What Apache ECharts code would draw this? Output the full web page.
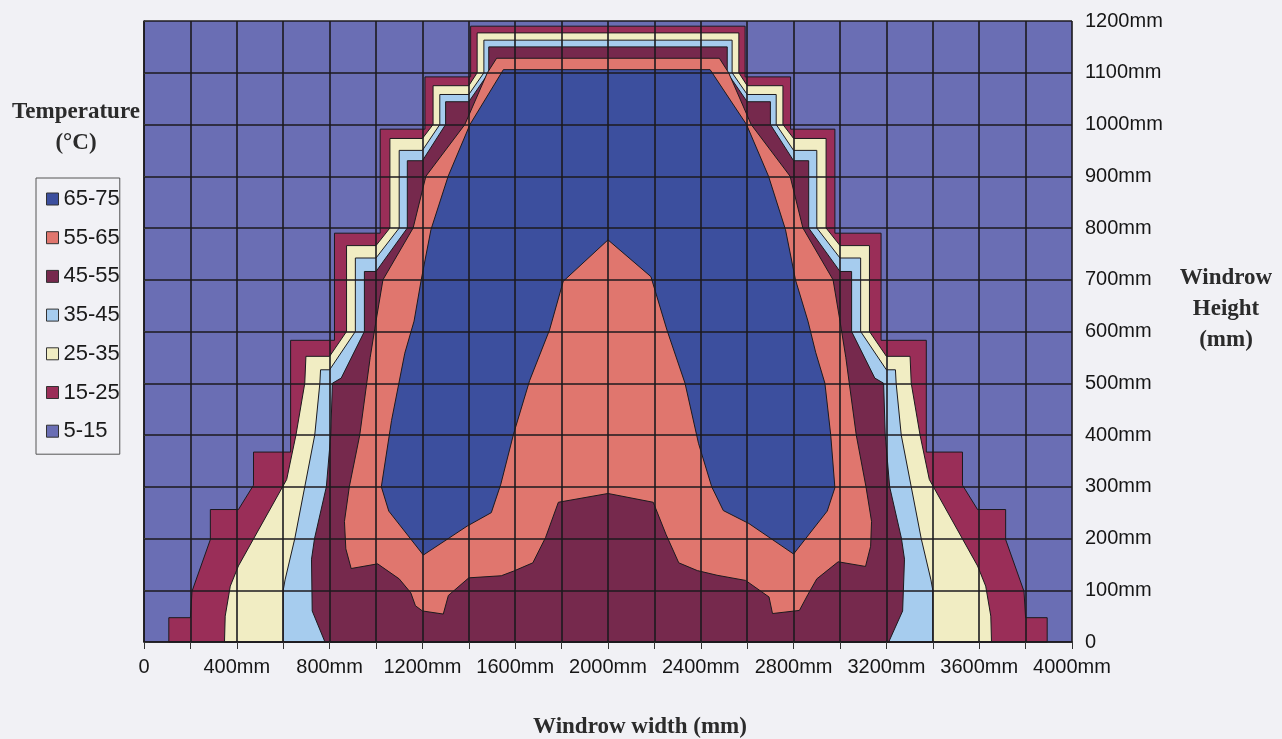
<!DOCTYPE html>
<html>
<head>
<meta charset="utf-8">
<script src="https://cdn.jsdelivr.net/npm/echarts@6/dist/echarts.min.js"></script>
<style>
  html, body { margin: 0; padding: 0; background: #f1f1f5; }
  #chart { width: 1282px; height: 739px; }
</style>
</head>
<body>
<div id="chart"></div>
<script>
// Temperature bands (°C), colours for each band
const bandNames  = ['5-15', '15-25', '25-35', '35-45', '45-55', '55-65', '65-75'];
const bandColors = ['#6a6eb4', '#9a2e58', '#f1edc3', '#a6ccee', '#76294d', '#e0766e', '#3c4f9e'];

// Axis tick labels
const widthLabels  = ['0', '400mm', '800mm', '1200mm', '1600mm', '2000mm', '2400mm', '2800mm', '3200mm', '3600mm', '4000mm'];
const heightLabels = ['0', '100mm', '200mm', '300mm', '400mm', '500mm', '600mm', '700mm', '800mm', '900mm', '1000mm', '1100mm', '1200mm'];

// Outline of each region at or above a band's lower limit: [width mm, height mm]
const edge5 = [[0, 0], [4000, 0], [4000, 1200], [0, 1200]];

const edge15 = [
  [1408, 1190], [1408, 1092], [1211, 1092], [1211, 991], [1018, 991], [1018, 790], [821, 790], [821, 583],
  [632, 583], [632, 367], [472, 367], [472, 303], [407, 256], [286, 256], [286, 198], [207, 98], [200, 47],
  [107, 47], [107, 0],
  [3893, 0], [3893, 47], [3800, 47], [3793, 98], [3714, 198], [3714, 256], [3593, 256], [3528, 303],
  [3528, 367], [3372, 367], [3372, 583], [3177, 583], [3177, 790], [2978, 790], [2978, 991], [2787, 991],
  [2787, 1092], [2591, 1092], [2591, 1190]
];

const edge25 = [
  [1436, 1177], [1436, 1100], [1400, 1075], [1246, 1075], [1246, 1000], [1200, 973], [1060, 973], [1060, 800],
  [1000, 766], [873, 766], [873, 600], [800, 552], [698, 552], [693, 500], [655, 400], [615, 314], [407, 147],
  [372, 108], [350, 50], [347, 0],
  [3653, 0], [3650, 50], [3628, 108], [3593, 147], [3385, 314], [3345, 400], [3307, 500], [3302, 552],
  [3200, 552], [3127, 600], [3127, 766], [3000, 766], [2940, 800], [2940, 973], [2800, 973], [2754, 1000],
  [2754, 1075], [2600, 1075], [2564, 1100], [2564, 1177]
];

const edge35 = [
  [1465, 1163], [1465, 1100], [1400, 1058], [1275, 1058], [1275, 1000], [1200, 950], [1100, 950], [1100, 800],
  [1000, 742], [911, 742], [911, 600], [800, 526], [761, 526], [758, 500], [736, 400], [693, 300], [650, 200],
  [608, 120], [600, 100], [600, 0],
  [3400, 0], [3400, 100], [3392, 120], [3350, 200], [3307, 300], [3264, 400], [3242, 500], [3239, 526],
  [3200, 526], [3089, 600], [3089, 742], [3000, 742], [2900, 800], [2900, 950], [2800, 950], [2725, 1000],
  [2725, 1058], [2600, 1058], [2535, 1100], [2535, 1163]
];

const edge45 = [
  [1486, 1150], [1486, 1100], [1400, 1044], [1300, 1044], [1300, 1000], [1200, 930], [1135, 930], [1135, 800],
  [1000, 716], [950, 716], [950, 600], [850, 510], [812, 500], [805, 400], [786, 300], [735, 200], [722, 160],
  [725, 60], [780, 0],
  [3210, 0], [3270, 60], [3278, 160], [3265, 200], [3214, 300], [3195, 400], [3188, 500], [3150, 510],
  [3050, 600], [3050, 716], [3000, 716], [2865, 800], [2865, 930], [2800, 930], [2700, 1000], [2700, 1044],
  [2600, 1044], [2514, 1100], [2514, 1150]
];

const edge55 = [
  [1520, 1128], [1480, 1100], [1383, 1000], [1215, 900], [1160, 800], [1030, 700], [1000, 620], [975, 550],
  [960, 500], [930, 400], [885, 300], [864, 233], [870, 180], [893, 142], [1007, 151], [1100, 122], [1150, 95],
  [1170, 70], [1200, 60], [1290, 54], [1312, 90], [1400, 124], [1540, 128], [1593, 137], [1676, 153],
  [1731, 202], [1786, 270], [2000, 287],
  [2195, 270], [2250, 208], [2305, 153], [2385, 138], [2470, 129], [2593, 119], [2694, 87], [2709, 55],
  [2825, 61], [2862, 92], [2900, 122], [2992, 155], [3110, 146], [3132, 185], [3136, 233], [3112, 300],
  [3070, 400], [3040, 500], [3025, 550], [3000, 620], [2970, 700], [2840, 800], [2785, 900], [2617, 1000],
  [2520, 1100], [2480, 1128]
];

const edge65 = [
  [1549, 1106], [1405, 1000], [1311, 900], [1237, 797], [1195, 700], [1164, 620], [1124, 558], [1067, 428],
  [1023, 300], [1055, 253], [1204, 168],
  [1393, 224], [1497, 250], [1538, 305], [1593, 402], [1662, 505], [1748, 603], [1807, 697], [2000, 777],
  [2185, 706], [2254, 603], [2332, 500], [2390, 384], [2447, 300], [2497, 254], [2607, 229], [2800, 170],
  [2945, 253], [2978, 298], [2960, 400], [2935, 500], [2895, 560], [2862, 620], [2808, 700], [2765, 797],
  [2692, 900], [2597, 1000], [2440, 1106]
];

const bandEdges = [edge5, edge15, edge25, edge35, edge45, edge55, edge65];

const serif = '"Liberation Serif", "Times New Roman", serif';
const sans = '"Liberation Sans", Arial, sans-serif';

// One filled polygon per band, painted from the coolest band upward
function bandSeries(i) {
  const outline = bandEdges[i];
  return {
    name: bandNames[i],
    type: 'custom',
    coordinateSystem: 'cartesian2d',
    z: 2 + i,
    silent: true,
    animation: false,
    itemStyle: { color: bandColors[i] },
    data: [[outline[0][0], outline[0][1]]],
    renderItem: function (params, api) {
      const pts = outline.map(function (p) { return api.coord(p); });
      return {
        type: 'polygon',
        shape: { points: pts },
        style: { fill: bandColors[i], stroke: i === 0 ? 'none' : '#1c1a1e', lineWidth: 1 }
      };
    }
  };
}

const chart = echarts.init(document.getElementById('chart'), null, { renderer: 'canvas' });

chart.setOption({
  backgroundColor: '#f1f1f5',
  animation: false,
  grid: { left: 144, right: 210, top: 21, bottom: 97 },
  xAxis: {
    type: 'value', min: 0, max: 4000, interval: 200, z: 20,
    axisLine: { show: true, lineStyle: { color: '#1c1a1e', width: 1.5 } },
    axisTick: { show: true, length: 7, lineStyle: { color: '#333', width: 1 } },
    axisLabel: {
      margin: 15, fontFamily: sans, fontSize: 20, color: '#161616',
      formatter: function (v) { return v % 400 === 0 ? widthLabels[v / 400] : ''; }
    },
    splitLine: { show: true, lineStyle: { color: '#1c1a1e', width: 1.6 } }
  },
  yAxis: {
    type: 'value', position: 'right', min: 0, max: 1200, interval: 100, z: 20,
    axisLine: { show: true, lineStyle: { color: '#1c1a1e', width: 1.5 } },
    axisTick: { show: true, length: 5, lineStyle: { color: '#333', width: 1 } },
    axisLabel: {
      margin: 13, fontFamily: sans, fontSize: 20, color: '#161616',
      formatter: function (v) { return heightLabels[v / 100]; }
    },
    splitLine: { show: true, lineStyle: { color: '#1c1a1e', width: 1.6 } }
  },
  legend: {
    orient: 'vertical', left: 36, top: 178,
    data: bandNames.slice().reverse(),
    icon: 'rect', itemWidth: 12, itemHeight: 12, itemGap: 16.7,
    padding: [10, 0, 12, 10],
    borderColor: '#555', borderWidth: 1,
    selectedMode: false,
    itemStyle: { borderColor: '#333', borderWidth: 1 },
    textStyle: { fontFamily: sans, fontSize: 22, lineHeight: 22, color: '#1a1a1a' }
  },
  graphic: [
    { type: 'text', x: 76, y: 112, style: { text: 'Temperature', font: 'bold 23px ' + serif, fill: '#2b2b2b', align: 'center', verticalAlign: 'middle' } },
    { type: 'text', x: 76, y: 143, style: { text: '(°C)', font: 'bold 23px ' + serif, fill: '#2b2b2b', align: 'center', verticalAlign: 'middle' } },
    { type: 'text', x: 1226, y: 278, style: { text: 'Windrow', font: 'bold 23px ' + serif, fill: '#2b2b2b', align: 'center', verticalAlign: 'middle' } },
    { type: 'text', x: 1226, y: 309, style: { text: 'Height', font: 'bold 23px ' + serif, fill: '#2b2b2b', align: 'center', verticalAlign: 'middle' } },
    { type: 'text', x: 1226, y: 340, style: { text: '(mm)', font: 'bold 23px ' + serif, fill: '#2b2b2b', align: 'center', verticalAlign: 'middle' } },
    { type: 'text', x: 640, y: 727, style: { text: 'Windrow width (mm)', font: 'bold 23px ' + serif, fill: '#2b2b2b', align: 'center', verticalAlign: 'middle' } }
  ],
  series: bandNames.map(function (n, i) { return bandSeries(i); })
});
</script>
</body>
</html>
